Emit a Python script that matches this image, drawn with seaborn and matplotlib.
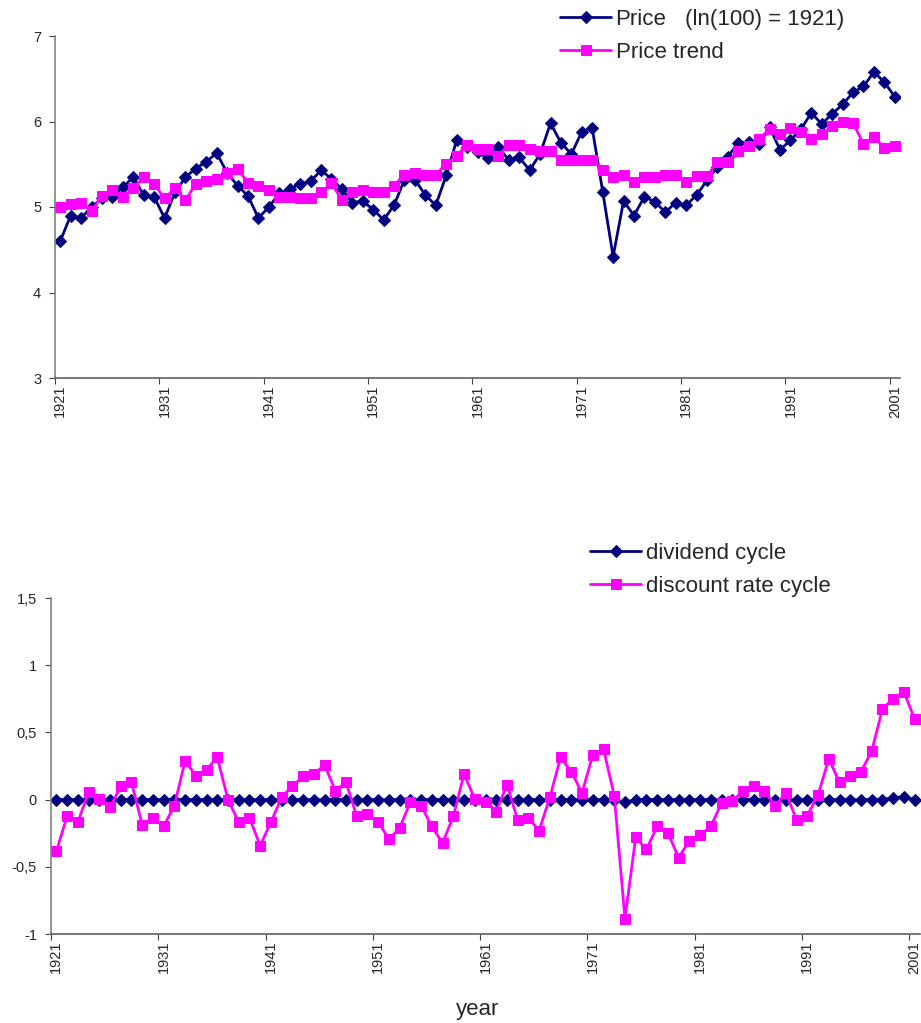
import matplotlib
matplotlib.use("Agg")
import matplotlib.pyplot as plt
import seaborn as sns
import numpy as np

# years 1921..2001
years = list(range(1921, 2002))

price = [4.60, 4.90, 4.87, 5.00, 5.10, 5.12, 5.23, 5.35, 5.14, 5.12,
         4.87, 5.17, 5.35, 5.45, 5.53, 5.63, 5.40, 5.25, 5.13, 4.87,
         5.00, 5.16, 5.21, 5.27, 5.30, 5.43, 5.33, 5.21, 5.05, 5.07,
         4.97, 4.85, 5.02, 5.32, 5.32, 5.14, 5.02, 5.37, 5.78, 5.70,
         5.64, 5.57, 5.70, 5.55, 5.58, 5.43, 5.62, 5.98, 5.75, 5.62,
         5.88, 5.92, 5.18, 4.42, 5.07, 4.90, 5.12, 5.06, 4.94, 5.05,
         5.02, 5.14, 5.31, 5.47, 5.59, 5.75, 5.76, 5.74, 5.93, 5.67,
         5.78, 5.91, 6.10, 5.97, 6.09, 6.20, 6.34, 6.41, 6.58, 6.46,
         6.29]

price_trend = [5.00, 5.03, 5.05, 4.95, 5.13, 5.20, 5.12, 5.22, 5.35, 5.27,
               5.10, 5.22, 5.08, 5.27, 5.30, 5.33, 5.40, 5.45, 5.28, 5.25,
               5.20, 5.12, 5.12, 5.10, 5.10, 5.17, 5.28, 5.08, 5.17, 5.20,
               5.17, 5.17, 5.25, 5.38, 5.40, 5.38, 5.38, 5.50, 5.60, 5.73,
               5.68, 5.68, 5.60, 5.73, 5.73, 5.68, 5.65, 5.65, 5.55, 5.55,
               5.55, 5.55, 5.43, 5.35, 5.37, 5.29, 5.35, 5.35, 5.38, 5.38,
               5.29, 5.36, 5.36, 5.53, 5.53, 5.66, 5.71, 5.80, 5.91, 5.85,
               5.92, 5.88, 5.80, 5.85, 5.95, 6.00, 5.98, 5.74, 5.82, 5.69,
               5.71]

dividend_cycle = [0, 0, 0, 0, 0, 0, 0, 0, 0, 0,
                  0, 0, 0, 0, 0, 0, 0, 0, 0, 0,
                  0, 0, 0, 0, 0, 0, 0, 0, 0, 0,
                  0, 0, 0, 0, 0, 0, 0, 0, 0, 0,
                  0, 0, 0, 0, 0, 0, 0, 0, 0, 0,
                  0, 0, 0, -0.02, 0, 0, 0, 0, 0, 0,
                  0, 0, 0, 0, 0, 0, 0, 0, 0, 0,
                  0, 0, 0, 0, 0, 0, 0, 0, 0.015, 0.02,
                  0]

discount_cycle = [-0.386, -0.124, -0.168, 0.054, 0.005, -0.057, 0.099, 0.129, -0.186, -0.136,
                  -0.200, -0.045, 0.287, 0.178, 0.223, 0.314, 0.000, -0.168, -0.136, -0.342,
                  -0.168, 0.017, 0.099, 0.173, 0.190, 0.257, 0.067, 0.129, -0.124, -0.106,
                  -0.168, -0.292, -0.213, -0.015, -0.045, -0.200, -0.324, -0.124, 0.190, 0.005,
                  -0.015, -0.089, 0.111, -0.151, -0.136, -0.230, 0.017, 0.314, 0.208, 0.050,
                  0.332, 0.376, 0.030, -0.886, -0.280, -0.371, -0.200, -0.248, -0.431, -0.309,
                  -0.262, -0.200, -0.027, -0.012, 0.064, 0.099, 0.064, -0.045, 0.050, -0.151,
                  -0.119, 0.035, 0.302, 0.129, 0.173, 0.208, 0.361, 0.673, 0.752, 0.802,
                  0.599]

label_years = [1921, 1931, 1941, 1951, 1961, 1971, 1981, 1991, 2001]
top_yticks = [3, 4, 5, 6, 7]
bot_yticks = [-1, -0.5, 0, 0.5, 1, 1.5]
bot_yticklabels = ["-1", "-0,5", "0", "0,5", "1", "1,5"]

NAVY = "#000080"
PINK = "#FF00FF"

sns.set_style("white")
plt.rcParams['font.family'] = ['Liberation Sans', 'DejaVu Sans']

fig = plt.figure(figsize=(9.21, 10.23), dpi=100)
ax1 = fig.add_axes([55/921, 1-378/1023, 845/921, 342/1023])
ax2 = fig.add_axes([51/921, 1-934/1023, 869/921, 336/1023])


def style_axis(ax):
    for s in ['top', 'right']:
        ax.spines[s].set_visible(False)
    ax.spines['left'].set_color('#808080')
    ax.spines['bottom'].set_color('#606060')
    ax.spines['left'].set_linewidth(1.2)
    ax.spines['bottom'].set_linewidth(1.2)
    ax.set_xlim(1920.5, 2001.5)
    # tick marks between categories, labels on categories
    ax.set_xticks(np.array(label_years) - 0.5)
    ax.set_xticklabels([])
    ax.set_xticks(label_years, minor=True)
    ax.set_xticklabels([str(y) for y in label_years], minor=True, rotation=90, fontsize=10.5)
    ax.tick_params(axis='x', which='major', direction='out', length=4, color='#404040', bottom=True)
    ax.tick_params(axis='x', which='minor', length=0, pad=5, bottom=True)
    ax.tick_params(axis='y', direction='out', length=4, color='#404040', left=True, labelsize=10.5, pad=6)
    ax.set_xlabel("")
    ax.set_ylabel("")


# top panel
sns.lineplot(x=years, y=price, ax=ax1, color=NAVY, marker='D', markersize=6,
             markeredgecolor=NAVY, linewidth=2, label='Price')
sns.lineplot(x=years, y=price_trend, ax=ax1, color=PINK, marker='s', markersize=7,
             markeredgecolor=PINK, linewidth=2, label='Price trend')
style_axis(ax1)
ax1.set_ylim(3, 7)
ax1.set_yticks(top_yticks)
ax1.legend(loc='upper left', bbox_to_anchor=(560/921, 1-9/1023), bbox_transform=fig.transFigure,
           frameon=False, fontsize=16, handlelength=2.3, handletextpad=0.2,
           borderpad=0, borderaxespad=0, labelspacing=0.55)
fig.text(685/921, 1-20/1023, "(ln(100) = 1921)", fontsize=16, va='center', ha='left')

# bottom panel
sns.lineplot(x=years, y=dividend_cycle, ax=ax2, color=NAVY, marker='D', markersize=6,
             markeredgecolor=NAVY, linewidth=2, label='dividend cycle')
sns.lineplot(x=years, y=discount_cycle, ax=ax2, color=PINK, marker='s', markersize=7,
             markeredgecolor=PINK, linewidth=2, label='discount rate cycle')
style_axis(ax2)
ax2.set_ylim(-1, 1.5)
ax2.set_yticks(bot_yticks)
ax2.set_yticklabels(bot_yticklabels)
ax2.legend(loc='upper left', bbox_to_anchor=(590/921, 1-543/1023), bbox_transform=fig.transFigure,
           frameon=False, fontsize=16, handlelength=2.3, handletextpad=0.2,
           borderpad=0, borderaxespad=0, labelspacing=0.55)

fig.text(478/921, 1-1010/1023, "year", fontsize=16, ha='center', va='center')

fig.savefig("out.png", dpi=100)
